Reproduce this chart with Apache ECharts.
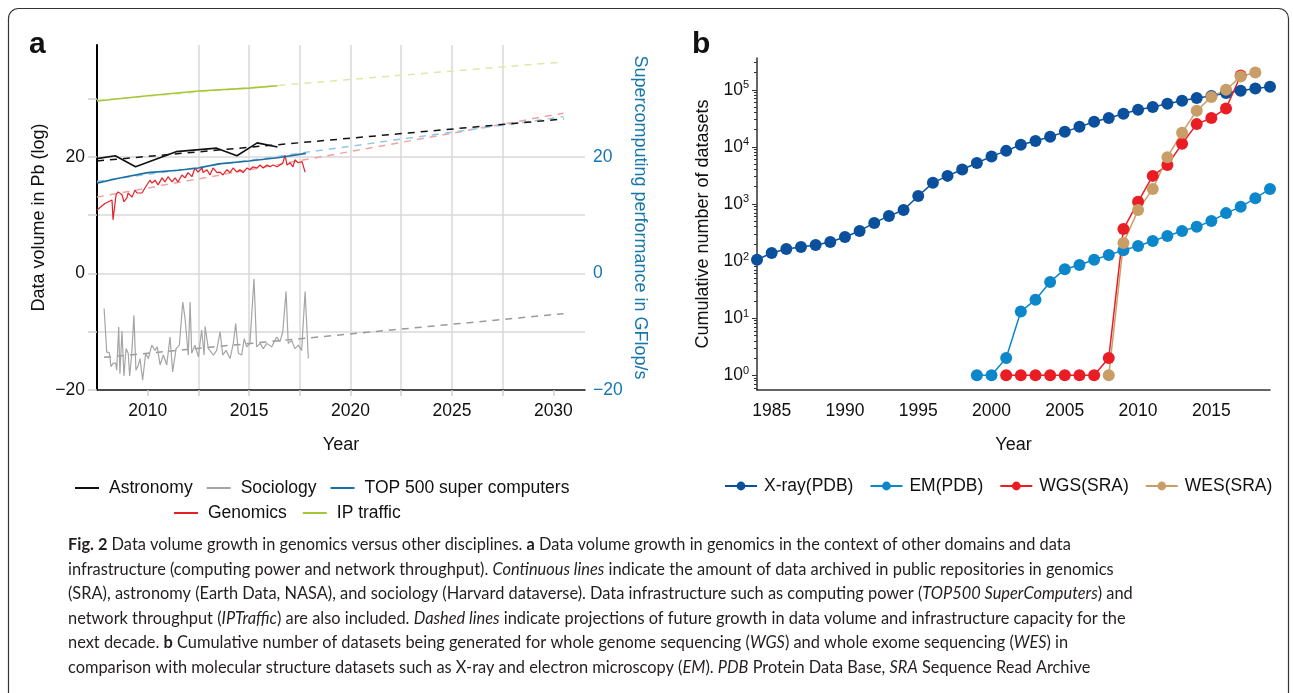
<!DOCTYPE html>
<html><head><meta charset="utf-8">
<script src="https://cdn.jsdelivr.net/npm/echarts@6/dist/echarts.min.js"></script>
<style>html,body{margin:0;padding:0;background:#fff;}#c{width:1293px;height:693px;}</style>
</head><body><div id="c"></div><script>
// ---------- Panel a data: [year, value] ----------
const astronomy = [[2007.5,19.7],[2008.4,20.2],[2009.4,18.3],[2011.4,20.9],[2013.4,21.5],[2014.4,20.2],[2015.4,22.4],[2016.4,21.7]];
const top500 = [[2007.5,15.5],[2008.5,16.3],[2010,17.3],[2011.5,17.7],[2012.5,18.1],[2013.5,18.8],[2015,19.3],[2016.5,19.9],[2017.8,20.6]];
const ipTraffic = [[2007.5,29.6],[2010,30.5],[2012.5,31.3],[2015,31.8],[2016.4,32.2]];
const genomics = [[2007.5,10.9],[2007.89,12.0],[2008.24,12.6],[2008.29,9.2],[2008.44,13.5],[2008.54,14.0],[2008.73,13.5],[2008.83,12.3],[2008.98,13.0],[2009.03,13.8],[2009.23,13.1],[2009.37,14.3],[2009.47,13.8],[2009.72,13.8],[2009.87,14.7],[2010.11,16.0],[2010.21,15.5],[2010.36,16.0],[2010.51,15.2],[2010.71,16.4],[2010.85,15.7],[2011.0,16.6],[2011.2,15.7],[2011.35,16.4],[2011.49,15.7],[2011.69,16.9],[2011.84,16.4],[2011.99,17.3],[2012.18,16.6],[2012.33,18.1],[2012.48,17.4],[2012.68,18.1],[2012.73,17.3],[2012.92,17.8],[2013.07,16.9],[2013.22,18.1],[2013.42,17.3],[2013.57,17.4],[2013.71,16.9],[2013.91,17.8],[2014.06,17.3],[2014.21,18.1],[2014.4,17.4],[2014.55,17.8],[2014.7,17.3],[2014.9,18.1],[2015.04,17.8],[2015.19,18.3],[2015.39,18.1],[2015.54,18.6],[2015.69,18.1],[2015.88,18.6],[2016.03,18.3],[2016.18,18.6],[2016.38,18.3],[2016.52,18.6],[2016.67,19.0],[2016.77,20.3],[2016.87,18.6],[2017.02,19.0],[2017.16,18.3],[2017.26,19.5],[2017.41,19.0],[2017.61,19.2],[2017.76,17.4]];
const sociology = [[2007.85,-6.0],[2007.98,-13.5],[2008.11,-13.6],[2008.19,-16.0],[2008.3,-15.4],[2008.42,-15.4],[2008.47,-16.6],[2008.57,-9.2],[2008.63,-17.2],[2008.73,-9.9],[2008.83,-17.6],[2008.93,-12.9],[2009.04,-13.7],[2009.11,-17.6],[2009.21,-14.0],[2009.32,-7.2],[2009.42,-16.6],[2009.54,-15.7],[2009.62,-14.6],[2009.75,-18.3],[2009.9,-13.7],[2010.03,-14.6],[2010.2,-12.3],[2010.36,-13.2],[2010.47,-12.6],[2010.61,-15.7],[2010.77,-14.0],[2010.94,-15.7],[2011.1,-10.9],[2011.23,-16.9],[2011.4,-12.9],[2011.56,-12.3],[2011.73,-4.9],[2011.84,-7.7],[2011.92,-7.6],[2012.0,-14.0],[2012.09,-4.9],[2012.17,-13.7],[2012.33,-12.3],[2012.5,-14.3],[2012.66,-9.7],[2012.78,-14.0],[2012.83,-9.1],[2012.99,-12.9],[2013.24,-14.0],[2013.4,-13.2],[2013.57,-10.0],[2013.7,-14.0],[2013.86,-13.2],[2014.06,-14.6],[2014.22,-12.0],[2014.34,-8.6],[2014.47,-13.7],[2014.63,-14.0],[2014.76,-11.2],[2014.88,-12.6],[2015.04,-12.0],[2015.24,-0.9],[2015.37,-12.6],[2015.54,-12.0],[2015.7,-12.9],[2015.87,-12.0],[2016.11,-12.6],[2016.36,-10.9],[2016.52,-11.7],[2016.66,-10.0],[2016.82,-3.1],[2016.93,-12.0],[2017.1,-11.5],[2017.26,-12.9],[2017.43,-12.3],[2017.59,-13.2],[2017.76,-3.1],[2017.92,-14.6]];
// projections (dashed)
const astronomyProj = [[2007.5,19.3],[2030.5,26.5]];
const top500Proj = [[2007.5,15.8],[2030.5,26.9]];
const genomicsProj = [[2007.5,13.1],[2030.5,27.5]];
const sociologyProj = [[2007.85,-14.4],[2030.5,-6.9]];
const ipTrafficProj = [[2007.5,29.7],[2030.5,36.3]];
const aXTicks = [2010,2012.5,2015,2017.5,2020,2022.5,2025,2027.5,2030];
const aXLabels = [2010,2015,2020,2025,2030];
const aYTicks = [-20,-10,0,10,20,30];
const aYLabels = [-20,0,20];

// ---------- Panel b data ----------
const xrayYears = [1984,1985,1986,1987,1988,1989,1990,1991,1992,1993,1994,1995,1996,1997,1998,1999,2000,2001,2002,2003,2004,2005,2006,2007,2008,2009,2010,2011,2012,2013,2014,2015,2016,2017,2018,2019];
const xrayValues = [105,138,162,176,191,215,264,336,465,616,780,1380,2340,3100,4000,5200,6800,8500,10900,12700,15000,18300,22400,27500,32000,38000,44500,50000,57000,64000,72000,78000,88000,96000,105000,113000];
const emYears = [1999,2000,2001,2002,2003,2004,2005,2006,2007,2008,2009,2010,2011,2012,2013,2014,2015,2016,2017,2018,2019];
const emValues = [1,1,2,13,21,43,72,85,105,127,155,183,224,274,336,398,500,690,890,1260,1830];
const wgsYears = [2001,2002,2003,2004,2005,2006,2007,2008,2009,2010,2011,2012,2013,2014,2015,2016,2017];
const wgsValues = [1,1,1,1,1,1,1,2,363,1090,3100,4800,11300,25000,32000,47000,178000];
const wesYears = [2008,2009,2010,2011,2012,2013,2014,2015,2016,2017,2018];
const wesValues = [1,207,780,1830,6600,17700,43000,75000,100000,170000,200000];
const bXLabels = [1985,1990,1995,2000,2005,2010,2015];
const bYMajor = [1,10,100,1000,10000,100000];
const bYMin = 0.55, bYMax = 360000;

const zip = (xs, ys) => xs.map((x, i) => [x, ys[i]]);
const F = 'Liberation Sans, Arial, sans-serif';
const minus = v => (v < 0 ? '\u2212' + Math.abs(v) : String(v));

// minor ticks for log axis (2..9 per decade), in log space on helper axis
const minorLog = [];
for (let e = -1; e <= 5; e++) for (let k = 2; k <= 9; k++) {
  const v = k * Math.pow(10, e);
  if (v >= bYMin && v <= bYMax) minorLog.push(Math.log10(v));
}

const chart = echarts.init(document.getElementById('c'), null, {renderer: 'canvas'});

// caption
const capLines = [
  '{b|Fig. 2} Data volume growth in genomics versus other disciplines. {b|a} Data volume growth in genomics in the context of other domains and data',
  'infrastructure (computing power and network throughput). {i|Continuous lines} indicate the amount of data archived in public repositories in genomics',
  '(SRA), astronomy (Earth Data, NASA), and sociology (Harvard dataverse). Data infrastructure such as computing power ({i|TOP500 SuperComputers}) and',
  'network throughput ({i|IPTraffic}) are also included. {i|Dashed lines} indicate projections of future growth in data volume and infrastructure capacity for the',
  'next decade. {b|b} Cumulative number of datasets being generated for whole genome sequencing ({i|WGS}) and whole exome sequencing ({i|WES}) in',
  'comparison with molecular structure datasets such as X-ray and electron microscopy ({i|EM}). {i|PDB} Protein Data Base, {i|SRA} Sequence Read Archive'
];
const CF = 'Lato, Open Sans, sans-serif';
const cv = document.createElement('canvas').getContext('2d');
cv.font = '16px ' + CF;
const plain2 = capLines[1].replace(/\{[a-z]\|([^}]*)\}/g, '$1');
const capSize = Math.max(11, Math.min(20, 16 * 1055 / cv.measureText(plain2).width));
const capY = [545, 569.5, 594, 618.5, 643, 667.5];

const graphics = [
  {type: 'rect', silent: true, shape: {x: 8.5, y: 8.5, width: 1280, height: 720, r: 10}, style: {fill: 'none', stroke: '#333', lineWidth: 1.2}},
  {type: 'text', left: 29, top: 30, style: {text: 'a', font: 'bold 30px ' + F, fill: '#111'}},
  {type: 'text', left: 692, top: 30, style: {text: 'b', font: 'bold 30px ' + F, fill: '#111'}}
];
capLines.forEach((t, i) => {
  graphics.push({type: 'text', x: 68, y: capY[i], silent: true, style: {
    text: t, fill: '#231f20', fontSize: capSize, fontFamily: CF, verticalAlign: 'middle',
    rich: {
      b: {fontSize: capSize, fontFamily: CF, fontWeight: 'bold', fill: '#231f20'},
      i: {fontSize: capSize, fontFamily: CF, fontStyle: 'italic', fill: '#231f20'}
    }
  }});
});

const dashed = (name, data, color, w) => ({
  name, type: 'line', xAxisIndex: 0, yAxisIndex: 0, data, symbol: 'none', silent: true,
  lineStyle: {color, width: w || 1.5, type: [7, 6]}, z: 2
});
const solid = (name, data, color, w) => ({
  name, type: 'line', xAxisIndex: 0, yAxisIndex: 0, data, symbol: 'none', silent: true,
  itemStyle: {color}, lineStyle: {color, width: w || 1.5}, z: 3
});
const dots = (name, data, color) => ({
  name, type: 'line', xAxisIndex: 1, yAxisIndex: 2, data, symbol: 'circle', symbolSize: 12,
  showSymbol: true, silent: true, itemStyle: {color}, lineStyle: {color, width: 1.5}, z: 3
});
const legText = {fontSize: 17.5, fontFamily: F, color: '#111', padding: [0, 0, 0, 5]};

const option = {
  animation: false,
  backgroundColor: '#fff',
  textStyle: {fontFamily: F},
  graphic: graphics,
  grid: [
    {left: 97, right: 708, top: 45, bottom: 303},
    {left: 757, right: 23, top: 58, bottom: 303}
  ],
  legend: [
    {data: ['Astronomy', 'Sociology', 'TOP 500 super computers'], left: 70, top: 474, icon: 'rect', itemWidth: 24, itemHeight: 2, itemGap: 14,
     textStyle: legText, selectedMode: false},
    {data: ['Genomics', 'IP traffic'], left: 169, top: 499, icon: 'rect', itemWidth: 24, itemHeight: 2, itemGap: 16,
     textStyle: legText, selectedMode: false},
    {data: ['X-ray(PDB)', 'EM(PDB)', 'WGS(SRA)', 'WES(SRA)'], left: 719, top: 472, itemWidth: 32, itemHeight: 11, itemGap: 16,
     textStyle: {fontSize: 17.5, fontFamily: F, color: '#111', padding: [0, 0, 0, 2]}, selectedMode: false}
  ],
  xAxis: [
    {type: 'value', gridIndex: 0, min: 2007.5, max: 2031.56, interval: 2.5,
     name: 'Year', nameLocation: 'middle', nameGap: 46, nameTextStyle: {fontSize: 18, color: '#111', fontFamily: F},
     axisLine: {onZero: false, lineStyle: {color: '#111', width: 1.5}},
     axisTick: {customValues: aXTicks, length: 6, lineStyle: {color: '#cfcfcf', width: 1.5}},
     axisLabel: {customValues: aXLabels, formatter: v => String(v), fontSize: 17.5, color: '#111', margin: 12, fontFamily: F},
     splitLine: {show: true, showMinLine: false, showMaxLine: false, lineStyle: {color: '#d9d9d9', width: 1.5}}},
    {type: 'value', gridIndex: 1, min: 1984, max: 2019,
     name: 'Year', nameLocation: 'middle', nameGap: 46, nameTextStyle: {fontSize: 18, color: '#111', fontFamily: F},
     axisLine: {onZero: false, lineStyle: {color: '#333', width: 1.5}},
     axisTick: {show: false},
     axisLabel: {customValues: bXLabels, formatter: v => String(v), fontSize: 17.5, color: '#111', margin: 12, fontFamily: F},
     splitLine: {show: false}}
  ],
  yAxis: [
    {type: 'value', gridIndex: 0, min: -20, max: 39.2, interval: 10, position: 'left',
     name: 'Data volume in Pb (log)', nameLocation: 'middle', nameGap: 49, nameTextStyle: {fontSize: 18, color: '#111', fontFamily: F},
     axisLine: {show: true, onZero: false, lineStyle: {color: '#000', width: 2}},
     axisTick: {show: true, customValues: aYTicks, length: 9, lineStyle: {color: '#cfcfcf', width: 1.5}},
     axisLabel: {customValues: aYLabels, formatter: v => minus(v), fontSize: 17.5, color: '#111', margin: 12, fontFamily: F},
     splitLine: {show: true, showMinLine: false, showMaxLine: false, lineStyle: {color: '#d9d9d9', width: 1.5}}},
    {type: 'value', gridIndex: 0, min: -20, max: 39.2, interval: 10, position: 'right',
     name: 'Supercomputing performance in GFlop/s', nameLocation: 'middle', nameRotate: -90, nameGap: 46,
     nameTextStyle: {fontSize: 18, color: '#1677ad', fontFamily: F},
     axisLine: {show: false, onZero: false}, axisTick: {show: false},
     axisLabel: {customValues: aYLabels, formatter: v => minus(v), fontSize: 17.5, color: '#1677ad', margin: 8, fontFamily: F},
     splitLine: {show: false}},
    {type: 'log', logBase: 10, gridIndex: 1, min: bYMin, max: bYMax, position: 'left',
     name: 'Cumulative number of datasets', nameLocation: 'middle', nameGap: 45, nameTextStyle: {fontSize: 18, color: '#111', fontFamily: F},
     axisLine: {show: true, onZero: false, lineStyle: {color: '#333', width: 1.5}},
     axisTick: {show: true, customValues: bYMajor, length: 5, lineStyle: {color: '#333', width: 1}},
     axisLabel: {customValues: bYMajor, margin: 8,
       formatter: v => '{b|10}{s|' + Math.round(Math.log10(v)) + '}',
       rich: {b: {fontSize: 17.5, lineHeight: 20, color: '#111', fontFamily: F},
              s: {fontSize: 11, lineHeight: 11, verticalAlign: 'top', color: '#111', fontFamily: F}}},
     splitLine: {show: false}},
    {type: 'value', gridIndex: 1, min: Math.log10(bYMin), max: Math.log10(bYMax), position: 'left',
     axisLine: {show: false, onZero: false}, axisLabel: {show: false}, splitLine: {show: false},
     axisTick: {show: true, customValues: minorLog, length: 3, lineStyle: {color: '#333', width: 1}}}
  ],
  series: [
    dashed('IP proj', ipTrafficProj, '#dfe9a6'),
    dashed('Soc proj', sociologyProj, '#9a9a9a'),
    dashed('Gen proj', genomicsProj, '#f3a1a1'),
    dashed('TOP proj', top500Proj, '#93c8e4'),
    dashed('Astro proj', astronomyProj, '#111'),
    solid('Sociology', sociology, '#a5a5a5', 1.2),
    solid('Genomics', genomics, '#e61f27', 1.2),
    solid('TOP 500 super computers', top500, '#1b6fa2', 1.6),
    solid('Astronomy', astronomy, '#111', 1.6),
    solid('IP traffic', ipTraffic, '#a6c63a', 1.6),
    dots('X-ray(PDB)', zip(xrayYears, xrayValues), '#0a509c'),
    dots('EM(PDB)', zip(emYears, emValues), '#0d87cb'),
    dots('WGS(SRA)', zip(wgsYears, wgsValues), '#ea1d25'),
    dots('WES(SRA)', zip(wesYears, wesValues), '#c99e66')
  ]
};
chart.setOption(option);
</script></body></html>
